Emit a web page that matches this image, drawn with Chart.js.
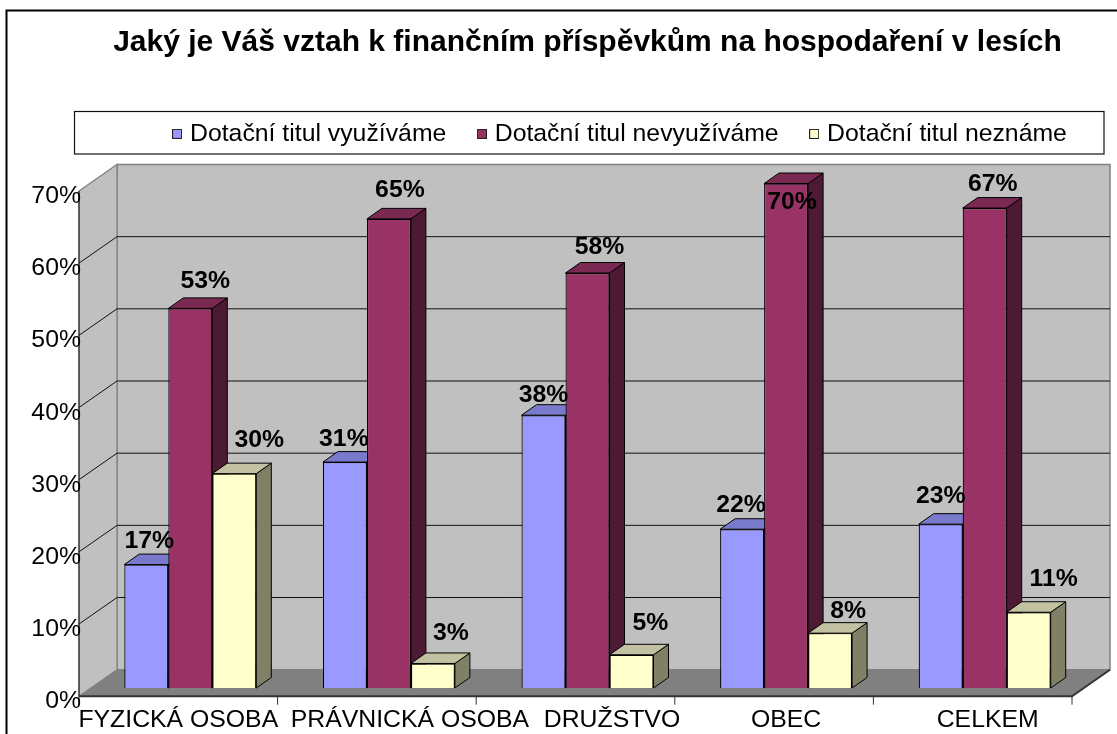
<!DOCTYPE html>
<html><head><meta charset="utf-8">
<script src="https://cdn.jsdelivr.net/npm/chart.js@4"></script>
<style>html,body{margin:0;padding:0;background:#fff}canvas{display:block}</style>
</head><body><canvas id="c" width="1117" height="734"></canvas>
<script>
const categories = ['FYZICKÁ OSOBA','PRÁVNICKÁ OSOBA','DRUŽSTVO','OBEC','CELKEM'];
const seriesNames = ['Dotační titul využíváme','Dotační titul nevyužíváme','Dotační titul neznáme'];
const usedValues = [17.1,31.3,37.8,22,22.7];
const unusedValues = [52.6,65,57.5,69.9,66.5];
const unknownValues = [29.7,3.4,4.6,7.6,10.5];
const titleText = 'Jaký je Váš vztah k finančním příspěvkům na hospodaření v lesích';
const yTicks = [0,10,20,30,40,50,60,70];

const FONT = "'Liberation Sans', Arial, sans-serif";
const FS = 24.8;
const front = ['#9999FF','#993366','#FFFFCC'];
const topFace = ['#7A7ACC','#7A2952','#C2C2A3'];
const sideFace = ['#4D4D80','#4D1A33','#808066'];
// styling offsets that imitate the original layout
const xLabelShift = [-12,21,24.5,0,3];
const labelNudge = [
  [[3,-25],[-1,-24],[0,-22],[-1,-26],[0,-30]],
  [[15,-29],[11,-30],[12,-27],[6,17],[8,-25]],
  [[25,-35],[18,-32],[19,-33],[18,-23],[25,-35]]
];
const icons = front.map(col=>{
  const c=document.createElement('canvas');c.width=10;c.height=10;
  const x=c.getContext('2d');x.fillStyle=col;x.fillRect(0,0,10,10);
  x.strokeStyle='#222';x.lineWidth=1;x.strokeRect(.5,.5,9,9);return c;
});
function poly(ctx,pts,fill,stroke,lw){
  ctx.beginPath();pts.forEach((p,i)=>i?ctx.lineTo(p[0],p[1]):ctx.moveTo(p[0],p[1]));ctx.closePath();
  if(fill){ctx.fillStyle=fill;ctx.fill();}
  if(stroke){ctx.strokeStyle=stroke;ctx.lineWidth=lw||1;ctx.stroke();}
}
const BACK={dx:26,dy:-18.3}, FRONT={dx:-12,dy:8.2}, BAR={dx:15,dy:-10.5};
const LP=35;
const scene={
  id:'scene',
  afterLayout(chart){
    const l=chart.legend;
    l.left=176.6-LP; l.right=1400; 
    const h=l.bottom-l.top; l.top=132.5-LP-11; l.bottom=l.top+h;
  },
  beforeDraw(chart){
    const ctx=chart.ctx;
    ctx.save();
    // outer frame
    ctx.strokeStyle='#000';ctx.lineWidth=2;
    ctx.beginPath();ctx.moveTo(6.5,734);ctx.lineTo(6.5,10.5);ctx.lineTo(1117,10.5);ctx.stroke();
    // legend box
    ctx.strokeStyle='#111';ctx.lineWidth=1.2;ctx.strokeRect(74.5,111.5,1029.5,42.5);
    const ys=chart.scales.y,xs=chart.scales.x;
    const L=xs.left,R=xs.right,y0=ys.getPixelForValue(0),yT=ys.getPixelForValue(70);
    // left wall, back wall, floor
    poly(ctx,[[L+BACK.dx,yT+BACK.dy],[R+BACK.dx,yT+BACK.dy],[R+BACK.dx,y0+BACK.dy],[L+BACK.dx,y0+BACK.dy]],'#C0C0C0','#808080',1.5);
    poly(ctx,[[L+FRONT.dx,yT+FRONT.dy],[L+BACK.dx,yT+BACK.dy],[L+BACK.dx,y0+BACK.dy],[L+FRONT.dx,y0+FRONT.dy]],'#C0C0C0','#808080',1.2);
    ctx.strokeStyle='#111';ctx.lineWidth=1;
    ctx.beginPath();ctx.moveTo(L+FRONT.dx,yT+FRONT.dy);ctx.lineTo(L+FRONT.dx,y0+FRONT.dy);ctx.stroke();
    poly(ctx,[[L+FRONT.dx,y0+FRONT.dy],[R+FRONT.dx,y0+FRONT.dy],[R+BACK.dx,y0+BACK.dy],[L+BACK.dx,y0+BACK.dy]],'#808080');
    // gridlines on walls
    ctx.strokeStyle='#111';ctx.lineWidth=1;
    yTicks.slice(1,-1).forEach(v=>{
      const y=ys.getPixelForValue(v);
      ctx.beginPath();ctx.moveTo(L+FRONT.dx,y+FRONT.dy);ctx.lineTo(L+BACK.dx,y+BACK.dy);ctx.lineTo(R+BACK.dx,y+BACK.dy);ctx.stroke();
    });
    // front edges and ticks
    ctx.strokeStyle='#333';ctx.lineWidth=2;
    ctx.beginPath();ctx.moveTo(L+FRONT.dx,y0+FRONT.dy);ctx.lineTo(R+FRONT.dx,y0+FRONT.dy);ctx.lineTo(R+BACK.dx,y0+BACK.dy);ctx.stroke();
    ctx.strokeStyle='#333';ctx.lineWidth=1;
    for(let i=0;i<=categories.length;i++){
      const x=L+(R-L)*i/categories.length+FRONT.dx;
      ctx.beginPath();ctx.moveTo(x,y0+FRONT.dy);ctx.lineTo(x,y0+FRONT.dy+8.5);ctx.stroke();
    }
    ctx.restore();
    // move category labels to where the original has them
    xs.getLabelItems().forEach((it,i)=>{
      if(!it._moved){it.options.translation[0]+=xLabelShift[i];it._moved=true;}
    });
  },
  beforeDatasetsDraw(chart){
    const ctx=chart.ctx;
    // series are painted left to right so each bar's front covers its neighbour's depth faces
    chart.data.datasets.forEach((ds,i)=>{
      const meta=chart.getDatasetMeta(i);
      ctx.save();ctx.lineJoin='round';
      meta.data.forEach(el=>{
        const l=el.x-el.width/2,r=el.x+el.width/2,t=el.y,b=el.base;
        poly(ctx,[[r,t],[r+BAR.dx,t+BAR.dy],[r+BAR.dx,b+BAR.dy],[r,b]],sideFace[i],'#000',1);
        poly(ctx,[[l,t],[l+BAR.dx,t+BAR.dy],[r+BAR.dx,t+BAR.dy],[r,t]],topFace[i],'#000',1);
      });
      ctx.restore();
      meta.controller.draw();
    });
    ctx.save();
    ctx.font='bold '+FS+'px '+FONT;ctx.fillStyle='#000';ctx.textAlign='center';ctx.textBaseline='middle';
    chart.data.datasets.forEach((ds,i)=>{
      chart.getDatasetMeta(i).data.forEach((el,j)=>{
        const n=labelNudge[i][j];
        ctx.fillText(Math.round(ds.data[j])+'%',el.x+n[0],el.y+n[1]+1.5);
      });
    });
    ctx.restore();
    return false;
  }
};
const allValues=[usedValues,unusedValues,unknownValues];
new Chart(document.getElementById('c'),{
  type:'bar',
  plugins:[scene],
  data:{labels:categories,datasets:seriesNames.map((n,i)=>({
    label:n,data:allValues[i],backgroundColor:front[i],borderColor:'#000',borderWidth:1.2,
    categoryPercentage:0.6647,barPercentage:1,clip:false
  }))},
  options:{
    responsive:false,animation:false,
    layout:{padding:{top:0,right:33,left:0,bottom:0}},
    plugins:{
      tooltip:{enabled:false},
      title:{display:true,text:titleText,fullSize:false,color:'#000',
        font:{family:FONT,size:30,weight:'bold'},padding:{top:25,bottom:52}},
      legend:{display:true,position:'top',align:'start',
        labels:{color:'#000',font:{family:FONT,size:FS},usePointStyle:true,pointStyleWidth:1,boxWidth:10,boxHeight:10,padding:LP,
          generateLabels(chart){
            const items=Chart.defaults.plugins.legend.labels.generateLabels(chart);
            items.forEach((it,i)=>{it.pointStyle=icons[i];});return items;
          }}}
    },
    scales:{
      x:{grid:{display:false},border:{display:false},
        afterFit(s){s.height=46;},
        ticks:{color:'#000',font:{family:FONT,size:FS},padding:9,maxRotation:0,autoSkip:false}},
      y:{min:0,max:70,grid:{display:false},border:{display:false},
        afterFit(s){s.width=91;},
        afterBuildTicks(s){s.ticks=yTicks.map(v=>({value:v}));},
        ticks:{color:'#000',font:{family:FONT,size:FS},padding:2,labelOffset:13.5,callback:v=>v+'%'}}
    }
  }
});
</script></body></html>
